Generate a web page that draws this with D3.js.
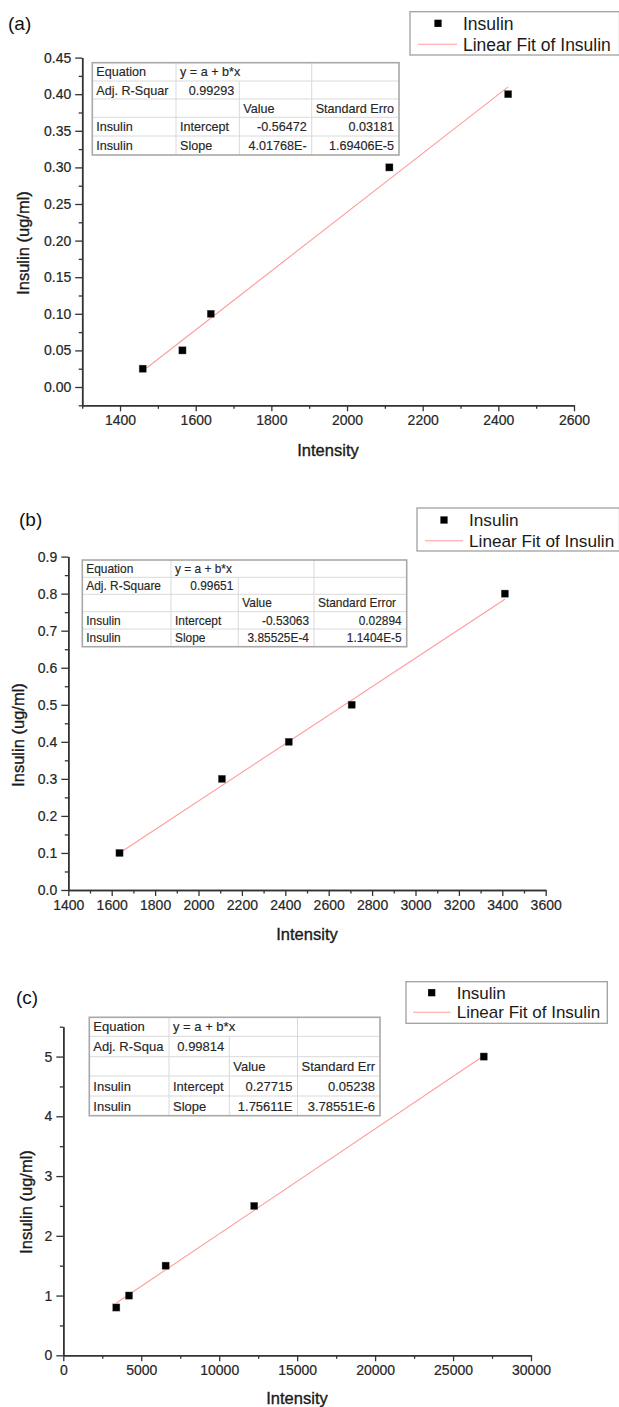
<!DOCTYPE html>
<html>
<head>
<meta charset="utf-8">
<script src="https://cdn.jsdelivr.net/npm/d3@7"></script>
<style>
  html, body { margin: 0; padding: 0; background: #fff; }
  svg { display: block; font-family: "Liberation Sans", Arial, sans-serif; }
</style>
</head>
<body>
<svg id="chart" width="619" height="1407"></svg>
<script>
// ---------------- DATA ----------------
const panelLabels = ["(a)", "(b)", "(c)"];
const seriesName = "Insulin";
const fitName = "Linear Fit of Insulin";
const xTitle = "Intensity";
const yTitle = "Insulin (ug/ml)";

// Panel (a)
const intensityA = [1460, 1565, 1640, 2112, 2426];
const insulinA   = [0.025, 0.05, 0.10, 0.30, 0.40];
const fitA = { intercept: -0.56472, slope: 4.01768e-4 };
const xTicksA = [1400, 1600, 1800, 2000, 2200, 2400, 2600];
const xMinorA = [1300, 1500, 1700, 1900, 2100, 2300, 2500];
const yTicksA = [0, 0.05, 0.10, 0.15, 0.20, 0.25, 0.30, 0.35, 0.40, 0.45];
const yMinorA = [-0.025, 0.025, 0.075, 0.125, 0.175, 0.225, 0.275, 0.325, 0.375, 0.425];
const xDomainA = [1300, 2600];
const yDomainA = [-0.025, 0.45];
const tableA = [
  ["Equation", "y = a + b*x", "", ""],
  ["Adj. R-Squar", "0.99293", "", ""],
  ["", "", "Value", "Standard Erro"],
  ["Insulin", "Intercept", "-0.56472", "0.03181"],
  ["Insulin", "Slope", "4.01768E-", "1.69406E-5"]
];

// Panel (b)
const intensityB = [1636, 2108, 2416, 2706, 3412];
const insulinB   = [0.1, 0.3, 0.4, 0.5, 0.8];
const fitB = { intercept: -0.53063, slope: 3.85525e-4 };
const xTicksB = [1400, 1600, 1800, 2000, 2200, 2400, 2600, 2800, 3000, 3200, 3400, 3600];
const xMinorB = [1500, 1700, 1900, 2100, 2300, 2500, 2700, 2900, 3100, 3300, 3500];
const yTicksB = [0, 0.1, 0.2, 0.3, 0.4, 0.5, 0.6, 0.7, 0.8, 0.9];
const yMinorB = [0.05, 0.15, 0.25, 0.35, 0.45, 0.55, 0.65, 0.75, 0.85];
const xDomainB = [1400, 3600];
const yDomainB = [0, 0.9];
const tableB = [
  ["Equation", "y = a + b*x", "", ""],
  ["Adj. R-Square", "0.99651", "", ""],
  ["", "", "Value", "Standard Error"],
  ["Insulin", "Intercept", "-0.53063", "0.02894"],
  ["Insulin", "Slope", "3.85525E-4", "1.1404E-5"]
];

// Panel (c)
const intensityC = [3400, 4215, 6565, 12245, 26970];
const insulinC   = [0.8, 1.0, 1.5, 2.5, 5.0];
const fitC = { intercept: 0.27715, slope: 1.75611e-4 };
const xTicksC = [0, 5000, 10000, 15000, 20000, 25000, 30000];
const xMinorC = [2500, 7500, 12500, 17500, 22500, 27500];
const yTicksC = [0, 1, 2, 3, 4, 5];
const yMinorC = [0.5, 1.5, 2.5, 3.5, 4.5, 5.5];
const xDomainC = [0, 30000];
const yDomainC = [0, 5.5];
const tableC = [
  ["Equation", "y = a + b*x", "", ""],
  ["Adj. R-Squa", "0.99814", "", ""],
  ["", "", "Value", "Standard Err"],
  ["Insulin", "Intercept", "0.27715", "0.05238"],
  ["Insulin", "Slope", "1.75611E", "3.78551E-6"]
];

// ---------------- LAYOUT ----------------
const panels = [
  {
    label: panelLabels[0], xs: intensityA, ys: insulinA, fit: fitA,
    xTicks: xTicksA, xMinor: xMinorA, yTicks: yTicksA, yMinor: yMinorA,
    xDomain: xDomainA, yDomain: yDomainA, table: tableA,
    yFmt: d3.format(".2f"),
    plot: { x0: 82.2, x1: 574, yTop: 57.6, yBot: 405.3 },
    labelPos: [8, 30],
    xTitlePos: [328, 456], yTitlePos: [29, 243],
    tbl: { cols: [92.3, 176, 239.3, 311.7, 399], rows: [62.7, 81, 99, 117.3, 136, 155], font: 12.6 },
    leg: { x0: 410, y0: 11.7, x1: 619.5, y1: 55, mx: 438, my: 23.3, lx0: 418, lx1: 457, ly: 44.3, tx: 463, font: 17.5 }
  },
  {
    label: panelLabels[1], xs: intensityB, ys: insulinB, fit: fitB,
    xTicks: xTicksB, xMinor: xMinorB, yTicks: yTicksB, yMinor: yMinorB,
    xDomain: xDomainB, yDomain: yDomainB, table: tableB,
    yFmt: d3.format(".1f"),
    plot: { x0: 68.3, x1: 545.7, yTop: 556.6, yBot: 890 },
    labelPos: [19, 526],
    xTitlePos: [307, 940], yTitlePos: [24, 735],
    tbl: { cols: [82.3, 171, 238.3, 314, 406.7], rows: [560, 577.3, 594.3, 611.7, 629, 646.7], font: 11.9 },
    leg: { x0: 417, y0: 508, x1: 619.5, y1: 551, mx: 444, my: 520, lx0: 425, lx1: 463, ly: 540.7, tx: 469, font: 17.2 }
  },
  {
    label: panelLabels[2], xs: intensityC, ys: insulinC, fit: fitC,
    xTicks: xTicksC, xMinor: xMinorC, yTicks: yTicksC, yMinor: yMinorC,
    xDomain: xDomainC, yDomain: yDomainC, table: tableC,
    yFmt: d3.format("d"),
    plot: { x0: 63.3, x1: 531, yTop: 1026.7, yBot: 1355.3 },
    labelPos: [16, 1004],
    xTitlePos: [297, 1404], yTitlePos: [32, 1202],
    tbl: { cols: [89.3, 169, 229.3, 297.5, 380], rows: [1017.3, 1036.3, 1056.7, 1076, 1096, 1115.7], font: 13 },
    leg: { x0: 406, y0: 981.7, x1: 607.3, y1: 1023.3, mx: 431.7, my: 992.7, lx0: 413, lx1: 450.7, ly: 1012.3, tx: 456.7, font: 17 }
  }
];

const svg = d3.select("#chart");
const AXIS_COLOR = "#333";
const TEXT_COLOR = "#262626";
const FIT_COLOR = "#ff9c9c";

panels.forEach(p => {
  const g = svg.append("g");
  const x = d3.scaleLinear().domain(p.xDomain).range([p.plot.x0, p.plot.x1]);
  const y = d3.scaleLinear().domain(p.yDomain).range([p.plot.yBot, p.plot.yTop]);

  // panel label
  g.append("text").attr("x", p.labelPos[0]).attr("y", p.labelPos[1])
    .attr("font-size", 19).attr("fill", "#111").text(p.label);

  // Axes
  const xMinorAxis = d3.axisBottom(x).tickValues(p.xMinor).tickSize(3.5).tickSizeOuter(0).tickFormat("");
  const yMinorAxis = d3.axisLeft(y).tickValues(p.yMinor).tickSize(3.5).tickSizeOuter(0).tickFormat("");
  const xAxis = d3.axisBottom(x).tickValues(p.xTicks).tickSize(6).tickSizeOuter(0).tickPadding(4).tickFormat(d3.format("d"));
  const yAxis = d3.axisLeft(y).tickValues(p.yTicks).tickSize(7).tickSizeOuter(0).tickPadding(4).tickFormat(p.yFmt);

  const styleAxis = sel => {
    sel.selectAll("path").attr("stroke", AXIS_COLOR).attr("stroke-width", 1.5);
    sel.selectAll("line").attr("stroke", AXIS_COLOR).attr("stroke-width", 1.3);
    sel.selectAll("text").attr("fill", TEXT_COLOR).attr("font-size", 14)
      .attr("stroke", TEXT_COLOR).attr("stroke-width", 0.2)
      .attr("font-family", "\"Liberation Sans\", Arial, sans-serif");
  };

  g.append("g").attr("transform", `translate(0,${p.plot.yBot})`).call(xMinorAxis).call(styleAxis);
  g.append("g").attr("transform", `translate(${p.plot.x0},0)`).call(yMinorAxis).call(styleAxis);
  g.append("g").attr("transform", `translate(0,${p.plot.yBot})`).call(xAxis).call(styleAxis);
  g.append("g").attr("transform", `translate(${p.plot.x0},0)`).call(yAxis).call(styleAxis);

  // axis titles
  g.append("text").attr("x", p.xTitlePos[0]).attr("y", p.xTitlePos[1])
    .attr("text-anchor", "middle").attr("font-size", 16.5).attr("fill", "#1a1a1a")
    .attr("stroke", "#1a1a1a").attr("stroke-width", 0.35).text(xTitle);
  g.append("text").attr("transform", `translate(${p.yTitlePos[0]},${p.yTitlePos[1]}) rotate(-90)`)
    .attr("text-anchor", "middle").attr("font-size", 16.5).attr("fill", "#1a1a1a")
    .attr("stroke", "#1a1a1a").attr("stroke-width", 0.35).text(yTitle);

  // fit line from first to last point
  const xmin = d3.min(p.xs), xmax = d3.max(p.xs);
  const fitPts = [xmin, xmax].map(v => [v, p.fit.intercept + p.fit.slope * v]);
  g.append("path").datum(fitPts)
    .attr("d", d3.line().x(d => x(d[0])).y(d => y(d[1])))
    .attr("fill", "none").attr("stroke", FIT_COLOR).attr("stroke-width", 1.1);

  // points
  const pts = p.xs.map((v, i) => [v, p.ys[i]]);
  g.selectAll("rect.pt").data(pts).enter().append("rect").attr("class", "pt")
    .attr("x", d => x(d[0]) - 3.6).attr("y", d => y(d[1]) - 3.6)
    .attr("width", 7.2).attr("height", 7.2)
    .attr("fill", "#000").attr("stroke", "#666").attr("stroke-width", 0.4);

  // table
  const t = p.tbl;
  const tg = g.append("g");
  tg.append("rect").attr("x", t.cols[0]).attr("y", t.rows[0])
    .attr("width", t.cols[4] - t.cols[0]).attr("height", t.rows[5] - t.rows[0])
    .attr("fill", "#fff");
  for (let r = 1; r < 5; r++) {
    tg.append("line").attr("x1", t.cols[0]).attr("x2", t.cols[4])
      .attr("y1", t.rows[r]).attr("y2", t.rows[r]).attr("stroke", "#d9d9d9").attr("stroke-width", 1);
  }
  [1, 2, 3].forEach(c => {
    const yStart = c === 2 ? t.rows[1] : t.rows[0];
    tg.append("line").attr("x1", t.cols[c]).attr("x2", t.cols[c])
      .attr("y1", yStart).attr("y2", t.rows[5]).attr("stroke", "#d9d9d9").attr("stroke-width", 1);
  });
  tg.append("rect").attr("x", t.cols[0]).attr("y", t.rows[0])
    .attr("width", t.cols[4] - t.cols[0]).attr("height", t.rows[5] - t.rows[0])
    .attr("fill", "none").attr("stroke", "#a8a8a8").attr("stroke-width", 1.6);
  p.table.forEach((row, r) => {
    row.forEach((cell, c) => {
      if (!cell) return;
      const numeric = /^-?[0-9]/.test(cell);
      const cy = (t.rows[r] + t.rows[r + 1]) / 2 + t.font * 0.36;
      tg.append("text")
        .attr("x", numeric ? t.cols[c + 1] - 5 : t.cols[c] + 4)
        .attr("y", cy)
        .attr("text-anchor", numeric ? "end" : "start")
        .attr("font-size", t.font).attr("fill", "#262626")
        .attr("stroke", "#262626").attr("stroke-width", 0.15).text(cell);
    });
  });

  // legend
  const L = p.leg;
  const lg = g.append("g");
  lg.append("rect").attr("x", L.x0).attr("y", L.y0).attr("width", L.x1 - L.x0).attr("height", L.y1 - L.y0)
    .attr("fill", "#fff").attr("stroke", "#a0a0a0").attr("stroke-width", 1.3);
  lg.append("rect").attr("x", L.mx - 3.6).attr("y", L.my - 3.6).attr("width", 7.2).attr("height", 7.2).attr("fill", "#000");
  lg.append("line").attr("x1", L.lx0).attr("x2", L.lx1).attr("y1", L.ly).attr("y2", L.ly)
    .attr("stroke", FIT_COLOR).attr("stroke-width", 1.1);
  lg.append("text").attr("x", L.tx).attr("y", L.my + L.font * 0.36).attr("font-size", L.font).attr("fill", "#1a1a1a").text(seriesName);
  lg.append("text").attr("x", L.tx).attr("y", L.ly + L.font * 0.36).attr("font-size", L.font).attr("fill", "#1a1a1a").text(fitName);
});
</script>
</body>
</html>
